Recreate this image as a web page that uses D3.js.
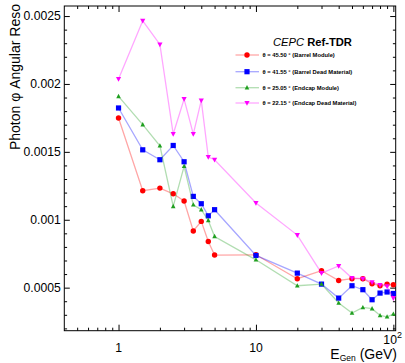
<!DOCTYPE html>
<html><head><meta charset="utf-8">
<script src="https://cdn.jsdelivr.net/npm/d3@7"></script>
<style>body{margin:0;background:#fff}svg{display:block}text{font-family:"Liberation Sans",Arial,sans-serif}</style>
</head><body><svg id="c" width="405" height="363"></svg>
<script>
const energies = [1,1.5,2,2.5,3,3.5,4,4.5,5,10,20,30,40,50,60,70,80,90,100];
const barrelModule = [0.001749,0.001214,0.001233,0.001191,0.001138,0.000917,0.000988,0.00084,0.00074,0.000742,0.000566,0.000625,0.000553,0.000566,0.000566,0.000529,0.000514,0.000526,0.000521];
const barrelDead = [0.001823,0.001515,0.001442,0.001547,0.001427,0.001172,0.001118,0.001029,0.001074,0.000737,0.000607,0.000526,0.000423,0.000514,0.000485,0.000411,0.00046,0.000468,0.000457];
const endcapModule = [0.001908,0.0017,0.001545,0.001098,0.001393,0.00111,0.001074,0.000995,0.000877,0.000705,0.000514,0.000526,0.000387,0.000313,0.000354,0.000345,0.000295,0.000285,0.000305];
const endcapDead = [0.002036,0.002465,0.002291,0.001631,0.001889,0.001631,0.001879,0.001462,0.001442,0.001123,0.000887,0.000607,0.00066,0.000571,0.000566,0.00054,0.00052,0.00051,0.000423];
const seriesNames = ["θ = 45.50 ° (Barrel Module)","θ = 41.55 ° (Barrel Dead Material)","θ = 25.05 ° (Endcap Module)","θ = 22.15 ° (Endcap Dead Material)"];
const seriesColors = ["#ff0000","#0000ff","#1f9f1f","#ff00ff"];
const seriesMarkers = ["circle","square","triangle","triangleDown"];
const yTicks = [0.0005,0.001,0.0015,0.002,0.0025];
const yTickLabels = ["0.0005","0.001","0.0015","0.002","0.0025"];
const xTicks = [1,10,100];

const svg = d3.select("#c");
const L=64.3,R=395.7,T=6,B=330.7;
const x = d3.scaleLog().domain([0.403,104]).range([L,R]);
const y = d3.scaleLinear().domain([0.000183,0.002574]).range([B,T]);

const yMinor = d3.range(2,26).map(i=>i*0.0001).filter(v=>!yTicks.some(t=>Math.abs(t-v)<1e-9));
const xMinor = [0.5,0.6,0.7,0.8,0.9,2,3,4,5,6,7,8,9,20,30,40,50,60,70,80,90];

function ax(gen, tr, vals, size){
  const g = svg.append("g").attr("transform",tr).call(gen.tickValues(vals).tickSize(size).tickFormat(""));
  g.select(".domain").remove();
  g.selectAll("line").attr("stroke","#000").attr("stroke-width",1);
  return g;
}
ax(d3.axisLeft(y),`translate(${L},0)`,yTicks,-5.5);
ax(d3.axisLeft(y),`translate(${L},0)`,yMinor,-2.8);
ax(d3.axisRight(y),`translate(${R},0)`,yTicks,-5.5);
ax(d3.axisRight(y),`translate(${R},0)`,yMinor,-2.8);
ax(d3.axisBottom(x),`translate(0,${B})`,xTicks,-6);
ax(d3.axisBottom(x),`translate(0,${B})`,xMinor,-3);
ax(d3.axisTop(x),`translate(0,${T})`,xTicks,-6);
ax(d3.axisTop(x),`translate(0,${T})`,xMinor,-3);

svg.append("rect").attr("x",L).attr("y",T).attr("width",R-L).attr("height",B-T)
  .attr("fill","none").attr("stroke","#000").attr("stroke-width",1);

svg.append("g").selectAll("text").data(yTicks).join("text")
  .attr("x",L-3.5).attr("y",d=>y(d)+4.3).attr("text-anchor","end")
  .attr("font-size",12.2).text((d,i)=>yTickLabels[i]);
svg.append("text").attr("x",x(1)).attr("y",351.5).attr("text-anchor","middle").attr("font-size",12.2).text("1");
svg.append("text").attr("x",x(10)).attr("y",351.5).attr("text-anchor","middle").attr("font-size",12.2).text("10");
const t100 = svg.append("text").attr("x",x(100)-10).attr("y",344).attr("font-size",12.2);
t100.append("tspan").text("10");
t100.append("tspan").attr("dy",-6).attr("font-size",9).text("2");

svg.append("text").attr("transform","translate(20,4) rotate(-90)").attr("text-anchor","end")
  .attr("font-size",14).text("Photon φ Angular Reso");
const xt = svg.append("text").attr("x",397).attr("y",358.5).attr("text-anchor","end").attr("font-size",14);
xt.append("tspan").text("E");
xt.append("tspan").attr("dy",2.5).attr("font-size",8.5).text("Gen");
xt.append("tspan").attr("dy",-2.5).text(" (GeV)");

const allSeries = [barrelModule,barrelDead,endcapModule,endcapDead];
function marker(g, type, cx, cy, color){
  if(type==="circle") g.append("circle").attr("cx",cx).attr("cy",cy).attr("r",2.7).attr("fill",color);
  else if(type==="square") g.append("rect").attr("x",cx-2.6).attr("y",cy-2.6).attr("width",5.2).attr("height",5.2).attr("fill",color);
  else if(type==="triangle") g.append("path").attr("d",`M${cx},${cy-2.6}L${cx+2.3},${cy+1.7}L${cx-2.3},${cy+1.7}Z`).attr("fill",color);
  else g.append("path").attr("d",`M${cx},${cy+2.8}L${cx+2.6},${cy-2}L${cx-2.6},${cy-2}Z`).attr("fill",color);
}
const line = d3.line().x(d=>x(d[0])).y(d=>y(d[1]));
allSeries.forEach((vals,i)=>{
  const pts = energies.map((e,j)=>[e,vals[j]]);
  svg.append("path").attr("d",line(pts)).attr("fill","none").attr("stroke",seriesColors[i])
    .attr("stroke-opacity",0.35).attr("stroke-width",1.3);
  const g = svg.append("g");
  pts.forEach(p=>marker(g,seriesMarkers[i],x(p[0]),y(p[1]),seriesColors[i]));
});

const lt = svg.append("text").attr("x",273).attr("y",46).attr("font-size",11.2);
lt.append("tspan").attr("font-style","italic").text("CEPC ");
lt.append("tspan").attr("font-weight","bold").text("Ref-TDR");
const legY = [55,71.7,87.7,103];
seriesNames.forEach((n,i)=>{
  svg.append("line").attr("x1",235.5).attr("x2",259).attr("y1",legY[i]).attr("y2",legY[i])
    .attr("stroke",seriesColors[i]).attr("stroke-opacity",0.35).attr("stroke-width",1.3);
  marker(svg,seriesMarkers[i],247,legY[i],seriesColors[i]);
  svg.append("text").attr("x",262.5).attr("y",legY[i]+2).attr("font-size",5.8).attr("font-weight","bold").text(n);
});
</script></body></html>
